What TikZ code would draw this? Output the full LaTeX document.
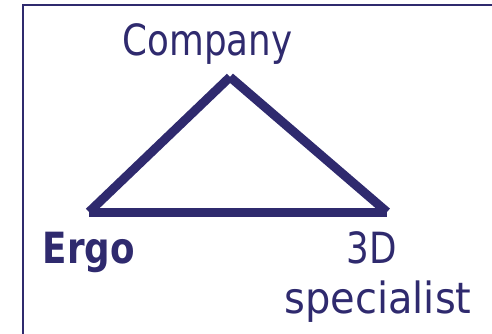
\documentclass[tikz,border=0pt]{standalone}
\usepackage{fontspec}
\setmainfont{DejaVu Sans}[FakeStretch=0.83]
\newfontfamily\widefont{DejaVu Sans}[FakeStretch=0.93]
\definecolor{navy}{HTML}{2F2A6E}
\begin{document}
\begin{tikzpicture}[x=1pt,y=-1pt,
  lbl/.style={text=navy,font=\fontsize{43}{45}\selectfont,inner sep=0pt,anchor=base},
  edge/.style={draw=navy,line width=9pt}]
\useasboundingbox (0,0) rectangle (492,334);
\draw[navy,line width=2pt] (493,5) -- (23,5) -- (23,335);
\coordinate (apex) at (230,77);
\coordinate (left) at (89,212);
\coordinate (right) at (387,212);
\draw[edge] (left) -- (apex);
\draw[edge] (apex) -- (right);
\draw[edge] (left) -- (right);
\node[lbl] (company) at (207.5,56) {Company};
\node[lbl,font=\fontsize{43}{45}\selectfont\bfseries] (ergo) at (89,263) {Ergo};
\node[lbl] (threed) at (372,263) {3D};
\node[lbl,font=\fontsize{43}{45}\widefont] (spec) at (378,313) {specialist};
\end{tikzpicture}
\end{document}
